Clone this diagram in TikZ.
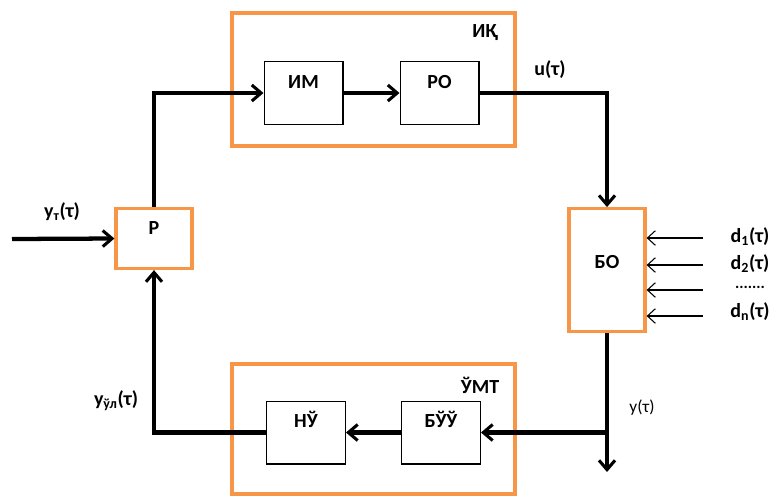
\documentclass[tikz,border=0pt]{standalone}
\usepackage{fontspec}
\setmainfont{Carlito}
\usetikzlibrary{arrows.meta}
\definecolor{org}{HTML}{F79646}
\begin{document}
\begin{tikzpicture}[x=0.75pt,y=-0.75pt,
  outerbox/.style={draw=org,line width=2.4pt},
  blockbox/.style={draw=black,line width=1pt,minimum width=59pt,minimum height=47pt,inner sep=0pt},
  orgblock/.style={draw=org,line width=2.4pt,minimum width=57pt,minimum height=45pt,inner sep=0pt},
  lbl/.style={font=\bfseries\fontsize{15}{17}\selectfont,inner sep=0pt},
  thick arrow/.style={line width=3.2pt,-{Straight Barb[length=7pt,width=12pt,line width=2.3pt]}},
  thin arrow/.style={line width=0.8pt,-{Straight Barb[length=6pt,width=11pt,line width=0.8pt]}}
]
\useasboundingbox (0,0) rectangle (773,497);
% outer boxes
\draw[outerbox] (232,13) rectangle (515,146);
\draw[outerbox] (232,364) rectangle (515,494);
\node[lbl] (ik) at (485,33) {ИҚ};
\node[lbl] (umt) at (480,385) {ЎМТ};
% inner blocks
\node[blockbox] (IM) at (303.5,93) {};
\node[blockbox] (RO) at (439.5,93) {};
\node[blockbox] (NU) at (306,432.5) {};
\node[blockbox] (BUU) at (441,432.5) {};
\node[lbl] at (303.5,82) {ИМ};
\node[lbl] at (439.5,82) {РО};
\node[lbl] at (306,419) {НЎ};
\node[lbl] at (441,419) {БЎЎ};
% P and BO
\node[orgblock] (P) at (154,238.5) {};
\node[lbl] at (154,228) {Р};
\node[orgblock,minimum height=92pt] (BO) at (607,270) {};
\node[lbl] at (607,262) {БО};
% connectors
\coordinate (in) at (12,239);
\draw[thick arrow] (in) -- (P.west);
\draw[thick arrow] (P.north) |- (IM.west);
\draw[thick arrow] (IM.east) -- (RO.west);
\draw[thick arrow] (RO.east) -| (BO.north);
\coordinate (out) at (607,472);
\coordinate (br) at (607,432.5);
\draw[thick arrow] (BO.south) -- (out);
\draw[thick arrow] (br) -- (BUU.east);
\draw[thick arrow] (BUU.west) -- (NU.east);
\draw[thick arrow] (NU.west) -| (P.south);
% disturbances
\foreach \yy/\nm in {238/a,265/b,290/c,316/d}{
  \coordinate (d\nm) at (703,\yy);
  \draw[thin arrow] (d\nm) -- (BO.east |- d\nm);
}
\node[lbl] at (750,237) {d\textsubscript{1}(τ)};
\node[lbl] at (750,264) {d\textsubscript{2}(τ)};
\node[lbl,font=\bfseries\fontsize{12}{14}\selectfont] at (750,287) {.......};
\node[lbl] at (750,312) {d\textsubscript{n}(τ)};
% signal labels
\node[lbl] at (62,212) {y\textsubscript{т}(τ)};
\node[lbl] at (550,70) {u(τ)};
\node[lbl] at (116,401) {y\textsubscript{ўл}(τ)};
\node[font=\fontsize{13}{15}\selectfont,inner sep=0pt] at (642,408) {y(τ)};
\end{tikzpicture}
\end{document}
